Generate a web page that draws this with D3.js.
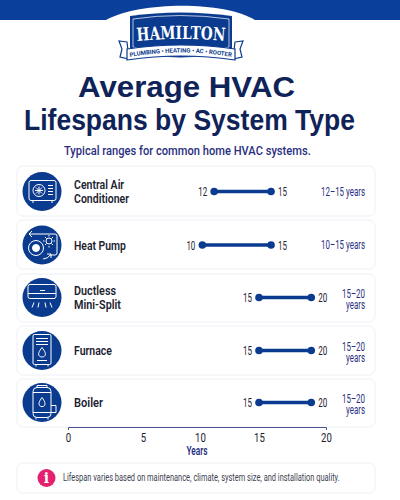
<!DOCTYPE html>
<html lang="en">
<head>
<meta charset="UTF-8">
<title>Average HVAC Lifespans by System Type</title>
<script src="https://d3js.org/d3.v7.min.js"></script>
<style>
html, body { margin: 0; padding: 0; background: #fff; }
svg { display: block; }
</style>
</head>
<body>
<svg id="chart" width="400" height="500"></svg>
<script>
// values
const systems = ['Central Air Conditioner', 'Heat Pump', 'Ductless Mini-Split', 'Furnace', 'Boiler'];
const drawnLow = [11.2, 10.2, 15, 15, 15];
const drawnHigh = [15.9, 15.9, 18.9, 18.9, 18.9];
const lowLabels = ['12', '10', '15', '15', '15'];
const highLabels = ['15', '15', '20', '20', '20'];
const rangeLabels = ['12–15 years', '10–15 years', '15–20 years', '15–20 years', '15–20 years'];
const axisTicks = [0, 5, 10, 15, 20];

const NAVY = '#0b3b8f', INK = '#0f2359', SUB = '#2a2f7f', BODY = '#1c2230';
const NARROW = 'Roboto, "Noto Sans", sans-serif';
const SANS = '"Liberation Sans", Lato, sans-serif';

const svg = d3.select('#chart');

// the drawn axis spacing is a little uneven, so the scale goes through each tick
const x = d3.scaleLinear().domain(axisTicks).range([68, 143, 200, 259, 326]);

const rowTop = [166, 220, 274, 326, 379];
const rowHeight = [50, 49, 48, 49, 48];
const rowMid = [191.5, 245, 297.5, 350.5, 402.5];
const nameLines = [['Central Air', 'Conditioner'], ['Heat Pump'], ['Ductless', 'Mini-Split'], ['Furnace'], ['Boiler']];
const nameWidths = [55, 52, 47, 38, 29];

// text squeezed sideways to a measured width, the font here is wider than the original
function txt(parent, lines, px, py, size, weight, fill, width, anchor, family, lineGap) {
    lines = [].concat(lines);
    var t = parent.append('text')
        .attr('font-size', size).attr('font-weight', weight)
        .attr('font-family', family || NARROW)
        .attr('fill', fill)
        .attr('text-anchor', anchor || 'start');
    lines.forEach(function (line, j) {
        t.append('tspan').attr('x', 0).attr('y', j * (lineGap || 0)).text(line);
    });
    var natural = d3.max(t.selectAll('tspan').nodes(), n => n.getComputedTextLength());
    var k = width ? width / natural : 1;
    t.attr('transform', 'translate(' + px + ',' + py + ') scale(' + k + ',1)');
    return t;
}

// header band with the white arch behind the logo
svg.append('path').attr('d', 'M0,0H400V20H255C225,1 140,1 106,20H0Z').attr('fill', '#0a3f9c');

// logo
const logo = svg.append('g');
logo.append('path')
    .attr('d', 'M130,16Q180,9 232,16V49Q180,66 130,49Z')
    .attr('fill', NAVY);
logo.append('path')
    .attr('d', 'M133,19Q180,12 229,19V47Q180,62 133,47Z')
    .attr('fill', 'none').attr('stroke', '#fff').attr('stroke-width', 0.7);
logo.append('path').attr('d', 'M127,42L119,41L122,49L120,57L129,59Z').attr('fill', '#fff').attr('stroke', NAVY).attr('stroke-width', 1.2);
logo.append('path').attr('d', 'M235,42L243,41L240,49L242,57L233,59Z').attr('fill', '#fff').attr('stroke', NAVY).attr('stroke-width', 1.2);
logo.append('path')
    .attr('d', 'M127,49Q181,41 235,49V60Q181,52 127,60Z')
    .attr('fill', '#fff').attr('stroke', NAVY).attr('stroke-width', 1.2);
const defs = svg.append('defs');
defs.append('path').attr('id', 'arcName').attr('d', 'M137,41Q181,37 225,41');
defs.append('path').attr('id', 'arcTag').attr('d', 'M130,57Q181,48 232,57');
logo.append('text').attr('font-family', '"DejaVu Serif", serif').attr('font-weight', 700)
    .attr('font-size', 18).attr('fill', '#fff')
    .append('textPath').attr('href', '#arcName').attr('textLength', 88).attr('lengthAdjust', 'spacingAndGlyphs')
    .text('HAMILTON');
logo.append('text').attr('font-family', NARROW).attr('font-weight', 700)
    .attr('font-size', 6).attr('fill', NAVY)
    .append('textPath').attr('href', '#arcTag').attr('textLength', 102).attr('lengthAdjust', 'spacingAndGlyphs')
    .text('PLUMBING • HEATING • AC • ROOTER');

// titles
txt(svg, 'Average HVAC', 78, 97, 29.4, 700, INK, 217, 'start', SANS);
txt(svg, 'Lifespans by System Type', 24, 130, 29.4, 700, INK, 331, 'start', SANS);
txt(svg, 'Typical ranges for common home HVAC systems.', 64, 155, 13, 500, SUB, 247);

// cards
svg.selectAll('rect.card').data(systems).enter().append('rect')
    .attr('class', 'card')
    .attr('x', 17).attr('width', 358)
    .attr('y', (d, i) => rowTop[i]).attr('height', (d, i) => rowHeight[i])
    .attr('rx', 6)
    .attr('fill', '#fff').attr('stroke', '#eef0f5');

// icons, drawn around the circle centre
const iconDraw = [
    function (g) {
        g.append('rect').attr('x', -13).attr('y', -11).attr('width', 27).attr('height', 20).attr('rx', 2);
        g.append('circle').attr('cx', -3).attr('cy', -1).attr('r', 6);
        g.append('path').attr('d', 'M-3,-5V3M-7,-1H1M-6,-4L0,2M0,-4L-6,2M6,-6H11M6,-3H11M6,0H11M6,3H11M-9,9V11.5M10,9V11.5');
    },
    function (g) {
        g.append('path').attr('d', 'M-8,-11H13Q15,-11 15,-9V8Q15,10 13,10H8');
        g.append('circle').attr('cx', -6).attr('cy', 3).attr('r', 7.5);
        g.append('circle').attr('cx', -6).attr('cy', 3).attr('r', 3.5).attr('fill', '#fff');
        g.append('circle').attr('cx', 7).attr('cy', -4).attr('r', 3);
        g.append('path').attr('d', 'M7,-10V-8.5M7,1V2.5M1,-4H2.5M11.5,-4H13M3,-8L4.5,-6.5M11,-8L9.5,-6.5M3,0L4.5,-1.5M11,0L9.5,-1.5');
        g.append('path').attr('d', 'M-8,-11H-13M-13,-11L-10,-14M-13,-11L-10,-8');
        g.append('path').attr('d', 'M1,14Q6,14 9,9M9,9H5M9,9V13');
    },
    function (g) {
        g.append('rect').attr('x', -14).attr('y', -13).attr('width', 28).attr('height', 14).attr('rx', 2);
        g.append('path').attr('d', 'M-14,-4H14M-2,-7H3M-8,5L-10,10M-3,5L-4,10M3,5L4,10M8,5L10,10');
    },
    function (g) {
        g.append('rect').attr('x', -9).attr('y', -16).attr('width', 18).attr('height', 30).attr('rx', 1.5);
        g.append('path').attr('d', 'M-6,-12H6M-6,-9H6M-6,-6H6M-5,10H5M-6,14V16M6,14V16');
        g.append('path').attr('d', 'M0,-3C3,1 4,3 3,5C2,7 -2,7 -3,5C-4,3 -3,1 0,-3Z');
    },
    function (g) {
        g.append('rect').attr('x', -9).attr('y', -15).attr('width', 18).attr('height', 30).attr('rx', 4);
        g.append('path').attr('d', 'M-5,-15V-17H5V-15M-9,-10H9M-9,10H9M9,3H14V10H9M-6,15V17M6,15V17');
        g.append('path').attr('d', 'M0,-5C3,-1 3.5,1 2.5,3C1.5,4.5 -1.5,4.5 -2.5,3C-3.5,1 -3,-1 0,-5Z');
    }
];

systems.forEach(function (name, i) {
    var cy = rowMid[i];
    svg.append('circle').attr('cx', 42).attr('cy', cy).attr('r', 19.5).attr('fill', NAVY);
    var g = svg.append('g')
        .attr('transform', 'translate(42,' + cy + ')')
        .attr('fill', 'none').attr('stroke', '#fff').attr('stroke-width', 1);
    iconDraw[i](g);

    var lines = nameLines[i];
    txt(svg, lines, 74, lines.length == 2 ? cy - 2.5 : cy + 4.5, 13, 600, BODY, nameWidths[i], 'start', NARROW, 14);

    // range note on the right, wraps when it does not fit
    if (i < 2) {
        txt(svg, rangeLabels[i], 365, cy + 4, 12, 400, SUB, 44, 'end');
    } else {
        txt(svg, rangeLabels[i].split(' '), 365, cy, 12, 400, SUB, 23, 'end', NARROW, 12);
    }
});

// dumbbells
svg.selectAll('line.range').data(systems).enter().append('line')
    .attr('class', 'range')
    .attr('x1', (d, i) => x(drawnLow[i])).attr('x2', (d, i) => x(drawnHigh[i]))
    .attr('y1', (d, i) => rowMid[i]).attr('y2', (d, i) => rowMid[i])
    .attr('stroke', NAVY).attr('stroke-width', 3.4);
svg.selectAll('circle.low').data(systems).enter().append('circle')
    .attr('class', 'low').attr('r', 3.8).attr('fill', NAVY)
    .attr('cx', (d, i) => x(drawnLow[i])).attr('cy', (d, i) => rowMid[i]);
svg.selectAll('circle.high').data(systems).enter().append('circle')
    .attr('class', 'high').attr('r', 3.8).attr('fill', NAVY)
    .attr('cx', (d, i) => x(drawnHigh[i])).attr('cy', (d, i) => rowMid[i]);
systems.forEach(function (name, i) {
    txt(svg, lowLabels[i], x(drawnLow[i]) - 7, rowMid[i] + 4.5, 12, 400, BODY, 9, 'end');
    txt(svg, highLabels[i], x(drawnHigh[i]) + 7, rowMid[i] + 4.5, 12, 400, BODY, 9, 'start');
});

// axis
const axis = svg.append('g')
    .attr('transform', 'translate(0,427)')
    .call(d3.axisBottom(x).tickValues(axisTicks).tickSizeInner(0).tickSizeOuter(3).tickPadding(6));
axis.select('.domain').attr('stroke', '#4b5596');
axis.selectAll('text').attr('font-family', NARROW).attr('font-size', 12).attr('fill', BODY)
    .attr('transform', 'scale(0.8,1)');
txt(svg, 'Years', 197, 455, 12, 600, SUB, 21, 'middle');

// footnote
svg.append('rect').attr('x', 17).attr('y', 463).attr('width', 358).attr('height', 30).attr('rx', 6)
    .attr('fill', '#fff').attr('stroke', '#eef0f5');
svg.append('circle').attr('cx', 46.5).attr('cy', 478).attr('r', 9).attr('fill', '#e5206f');
txt(svg, 'i', 46.5, 483, 14, 700, '#fff', 0, 'middle', '"DejaVu Serif", serif');
txt(svg, 'Lifespan varies based on maintenance, climate, system size, and installation quality.', 63, 481, 10.5, 400, '#3c4250', 277);
</script>
</body>
</html>
